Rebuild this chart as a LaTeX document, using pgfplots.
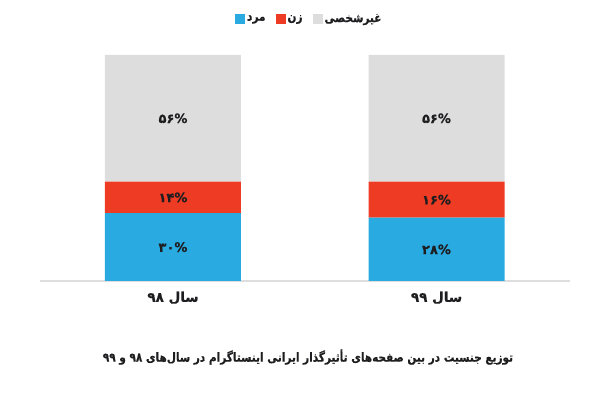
\documentclass[border=0pt]{standalone}
\usepackage{pgfplots}
\pgfplotsset{compat=1.18}
\usepackage{fontspec}
\setmainfont{DejaVu Sans}
\TeXXeTstate=1
\newfontfamily\arabicfont[Script=Arabic, BoldFeatures={FakeBold=0.5}]{DejaVu Sans}
\newfontfamily\arabiccond[Script=Arabic, FakeStretch=0.84, BoldFeatures={FakeBold=0.5, FakeStretch=0.84}]{DejaVu Sans}
\definecolor{cblue}{RGB}{41,171,226}
\definecolor{cred}{RGB}{238,59,36}
\definecolor{cgray}{RGB}{221,221,222}
\definecolor{cline}{RGB}{222,222,222}
\definecolor{ctext}{RGB}{30,30,32}
\newcommand{\labA}{\arabicfont\bfseries\beginR سال \beginL۹۸\endL\endR}
\newcommand{\labB}{\arabicfont\bfseries\beginR سال \beginL۹۹\endL\endR}
\begin{document}
\begin{tikzpicture}
\path (0pt,0pt) rectangle (600pt,399pt);
\begin{axis}[
  at={(40pt,118pt)}, anchor=south west,
  scale only axis, width=530pt, height=226pt,
  ybar stacked, bar width=136pt,
  xmin=-0.5047, xmax=1.5066, ymin=0, ymax=100,
  axis x line*=bottom, hide y axis,
  axis line style={draw=cline, line width=1.2pt},
  xtick=data, major tick length=0pt,
  xticklabels={\labA,\labB},
  xticklabel style={font=\fontsize{13.5}{15}\selectfont, text=ctext, yshift=-7pt},
  legend image code/.code={\fill[#1] (0pt,-5pt) rectangle (10pt,5pt);},
  legend style={at={(axis description cs:0.508,1.16)}, anchor=center, draw=none, fill=none,
    legend columns=3, font=\fontsize{12.5}{14}\selectfont\arabiccond\bfseries, text=ctext,
    /tikz/every even column/.append style={column sep=8pt}},
]
\addplot[fill=cblue, draw=none] coordinates {(0,30) (1,28)};
\addlegendentry{مرد}
\addplot[fill=cred, draw=none] coordinates {(0,14) (1,16)};
\addlegendentry{زن}
\addplot[fill=cgray, draw=none] coordinates {(0,56) (1,56)};
\addlegendentry{غیرشخصی}
\coordinate (a1) at (axis cs:0,15);
\coordinate (a2) at (axis cs:0,37);
\coordinate (a3) at (axis cs:0,72);
\coordinate (b1) at (axis cs:1,14);
\coordinate (b2) at (axis cs:1,36);
\coordinate (b3) at (axis cs:1,72);
\end{axis}
\begin{scope}[every node/.style={font=\fontsize{13}{15}\selectfont\arabicfont\bfseries, text=ctext}]
\node at (a1) {۳۰\%};
\node at (a2) {۱۴\%};
\node at (a3) {۵۶\%};
\node at (b1) {۲۸\%};
\node at (b2) {۱۶\%};
\node at (b3) {۵۶\%};
\end{scope}
\node[font=\fontsize{12.5}{14}\selectfont\arabiccond\bfseries, text=ctext] at (308pt,42pt)
  {\beginR توزیع جنسیت در بین صفحه‌های تأثیرگذار ایرانی اینستاگرام در سال‌های \beginL۹۸\endL{} و \beginL۹۹\endL\endR};
\end{tikzpicture}
\end{document}
